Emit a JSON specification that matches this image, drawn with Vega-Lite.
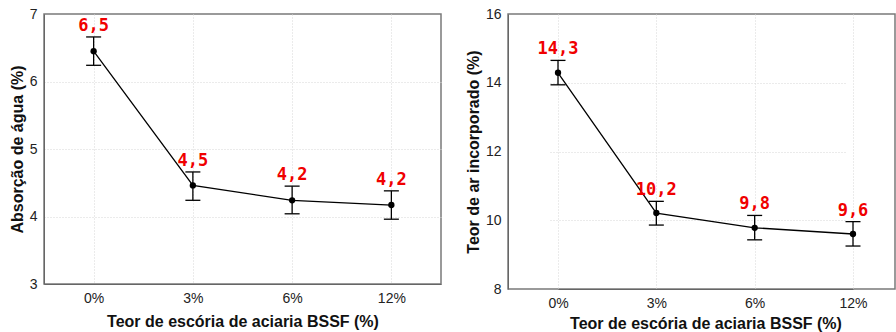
{
  "$schema": "https://vega.github.io/schema/vega-lite/v6.json",
  "background": "white",
  "padding": {"left": 8, "top": 6, "right": 0, "bottom": 0},
  "spacing": 22,
  "datasets": {
    "absorcao": [
      {"teor": "0%", "valor": 6.45, "inf": 6.24, "sup": 6.66, "rotulo": "6,5"},
      {"teor": "3%", "valor": 4.46, "inf": 4.24, "sup": 4.66, "rotulo": "4,5"},
      {"teor": "6%", "valor": 4.24, "inf": 4.04, "sup": 4.45, "rotulo": "4,2"},
      {"teor": "12%", "valor": 4.17, "inf": 3.96, "sup": 4.38, "rotulo": "4,2"}
    ],
    "ar": [
      {"teor": "0%", "valor": 14.29, "inf": 13.94, "sup": 14.65, "rotulo": "14,3"},
      {"teor": "3%", "valor": 10.21, "inf": 9.86, "sup": 10.55, "rotulo": "10,2"},
      {"teor": "6%", "valor": 9.78, "inf": 9.43, "sup": 10.14, "rotulo": "9,8"},
      {"teor": "12%", "valor": 9.6, "inf": 9.25, "sup": 9.96, "rotulo": "9,6"}
    ]
  },
  "config": {
    "view": {"stroke": "#7a7a7a", "strokeWidth": 1.5},
    "axis": {
      "labelFont": "Liberation Sans",
      "labelFontSize": 14,
      "labelColor": "#222",
      "titleFont": "Liberation Sans",
      "titleFontSize": 16,
      "titleFontWeight": "bold",
      "titleColor": "#111",
      "gridColor": "#d6d6d6",
      "gridDash": [1, 2],
      "domainColor": "#666",
      "tickSize": 0,
      "labelPadding": 7
    }
  },
  "hconcat": [
    {
      "width": 397,
      "height": 270,
      "data": {"name": "absorcao"},
      "encoding": {
        "x": {
          "field": "teor", "type": "ordinal", "sort": ["0%", "3%", "6%", "12%"],
          "scale": {"type": "point", "padding": 0.5},
          "axis": {"title": "Teor de escória de aciaria BSSF (%)", "labelAngle": 0, "titlePadding": 8, "grid": true}
        }
      },
      "resolve": {"axis": {"y": "independent"}},
      "layer": [
        {"mark": {"type": "line", "color": "black", "strokeWidth": 1.3},
         "encoding": {"y": {"field": "valor", "type": "quantitative", "title": "Absorção de água (%)", "scale": {"domain": [3, 7], "nice": false}, "axis": {"values": [3, 4, 5, 6, 7], "format": "d", "grid": false}}}},
        {"mark": {"type": "rule", "color": "black", "strokeWidth": 1.3},
         "encoding": {"y": {"field": "inf", "type": "quantitative", "axis": {"orient": "right", "values": [4, 5, 6], "grid": true, "labels": false, "ticks": false, "domain": false, "title": null}}, "y2": {"field": "sup"}}},
        {"mark": {"type": "tick", "color": "black", "size": 15, "thickness": 1.3, "opacity": 1},
         "encoding": {"y": {"field": "inf", "type": "quantitative", "axis": null}}},
        {"mark": {"type": "tick", "color": "black", "size": 15, "thickness": 1.3, "opacity": 1},
         "encoding": {"y": {"field": "sup", "type": "quantitative", "axis": null}}},
        {"mark": {"type": "point", "filled": true, "color": "black", "size": 40, "opacity": 1},
         "encoding": {"y": {"field": "valor", "type": "quantitative", "axis": null}}},
        {"mark": {"type": "text", "color": "#f00000", "font": "DejaVu Sans Mono", "fontWeight": "bold", "fontSize": 17, "baseline": "alphabetic", "dy": -6},
         "encoding": {"y": {"field": "sup", "type": "quantitative", "axis": null}, "text": {"field": "rotulo"}}}
      ]
    },
    {
      "width": 387,
      "height": 275,
      "data": {"name": "ar"},
      "encoding": {
        "x": {
          "field": "teor", "type": "ordinal", "sort": ["0%", "3%", "6%", "12%"],
          "scale": {"type": "point", "padding": 0, "range": [50, 345]},
          "axis": {"title": "Teor de escória de aciaria BSSF (%)", "labelAngle": 0, "titlePadding": 5, "grid": true}
        }
      },
      "resolve": {"axis": {"y": "independent"}},
      "layer": [
        {"mark": {"type": "line", "color": "black", "strokeWidth": 1.3},
         "encoding": {"y": {"field": "valor", "type": "quantitative", "title": "Teor de ar incorporado (%)", "scale": {"domain": [8, 16], "nice": false}, "axis": {"values": [8, 10, 12, 14, 16], "format": "d", "grid": false}}}},
        {"mark": {"type": "rule", "color": "black", "strokeWidth": 1.3},
         "encoding": {"y": {"field": "inf", "type": "quantitative", "axis": {"orient": "right", "values": [10, 12, 14], "grid": true, "labels": false, "ticks": false, "domain": false, "title": null}}, "y2": {"field": "sup"}}},
        {"mark": {"type": "tick", "color": "black", "size": 15, "thickness": 1.3, "opacity": 1},
         "encoding": {"y": {"field": "inf", "type": "quantitative", "axis": null}}},
        {"mark": {"type": "tick", "color": "black", "size": 15, "thickness": 1.3, "opacity": 1},
         "encoding": {"y": {"field": "sup", "type": "quantitative", "axis": null}}},
        {"mark": {"type": "point", "filled": true, "color": "black", "size": 40, "opacity": 1},
         "encoding": {"y": {"field": "valor", "type": "quantitative", "axis": null}}},
        {"mark": {"type": "text", "color": "#f00000", "font": "DejaVu Sans Mono", "fontWeight": "bold", "fontSize": 17, "baseline": "alphabetic", "dy": -6},
         "encoding": {"y": {"field": "sup", "type": "quantitative", "axis": null}, "text": {"field": "rotulo"}}}
      ]
    }
  ]
}
